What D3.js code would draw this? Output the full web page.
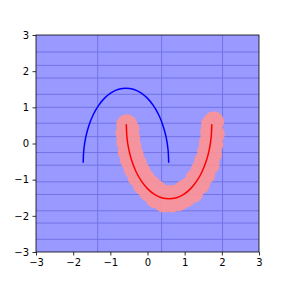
<!DOCTYPE html>
<html>
<head>
<meta charset="utf-8">
<script src="https://cdn.jsdelivr.net/npm/d3@7"></script>
<style>
  body { margin: 0; background: #fff; }
  svg { display: block; }
</style>
</head>
<body>
<svg width="288" height="288"></svg>
<script>
const svg = d3.select('svg');
const MARGIN = { TOP: 35, RIGHT: 29, BOTTOM: 36, LEFT: 36 };
const WIDTH = +svg.attr('width') - MARGIN.LEFT - MARGIN.RIGHT;
const HEIGHT = +svg.attr('height') - MARGIN.TOP - MARGIN.BOTTOM;

// tick values
const xTicks = [-3, -2, -1, 0, 1, 2, 3];
const yTicks = [-3, -2, -1, 0, 1, 2, 3];

// background grid lines
const gridX = [-1.34, 0.38, 2.02];
const gridY = [2.53, 2.16, 1.81, 1.36, 1.0, 0.56, 0.19, -0.25, -0.6, -1.06, -1.41, -1.86, -2.2, -2.65];

// blue arc
const blueX = [0.57, 0.553, 0.501, 0.416, 0.301, 0.159, -0.005, -0.187, -0.38, -0.58,
  -0.78, -0.973, -1.155, -1.319, -1.461, -1.576, -1.661, -1.713, -1.73];
const blueY = [-0.53, -0.172, 0.175, 0.5, 0.795, 1.048, 1.254, 1.406, 1.499, 1.53,
  1.499, 1.406, 1.254, 1.048, 0.795, 0.5, 0.175, -0.172, -0.53];

// red arc
const redX = [-0.57, -0.553, -0.501, -0.416, -0.301, -0.159, 0.005, 0.187, 0.38, 0.58,
  0.78, 0.973, 1.155, 1.319, 1.461, 1.576, 1.661, 1.713, 1.73];
const redY = [0.53, 0.172, -0.175, -0.5, -0.795, -1.048, -1.254, -1.406, -1.499, -1.53,
  -1.499, -1.406, -1.254, -1.048, -0.795, -0.5, -0.175, 0.172, 0.53];

// pink points around the red arc
const pinkX = [-0.56, -0.5, -0.58, -0.48, -0.56, -0.44, -0.52, -0.38, -0.46, -0.3,
  -0.36, -0.2, -0.26, -0.08, -0.12, 0.08, 0.04, 0.24,
  0.22, 0.4, 0.44, 0.6, 0.64, 0.8, 0.84, 0.98, 1.02, 1.14, 1.22,
  1.3, 1.4, 1.44, 1.54, 1.54, 1.66, 1.62, 1.72, 1.66, 1.76, 1.7, 1.8, 1.72, 1.78];
const pinkY = [0.52, 0.4, 0.28, 0.16, 0.04, -0.08, -0.22, -0.32, -0.46, -0.56,
  -0.7, -0.78, -0.92, -0.98, -1.14, -1.16, -1.32, -1.3,
  -1.5, -1.42, -1.62, -1.44, -1.62, -1.42, -1.58, -1.3, -1.48, -1.2, -1.36,
  -0.98, -1.12, -0.74, -0.86, -0.48, -0.58, -0.22, -0.3, 0.04, -0.02, 0.3, 0.26, 0.52, 0.6];

const g = svg.append('g')
  .attr('transform', `translate(${MARGIN.LEFT}, ${MARGIN.TOP})`);

const x = d3.scaleLinear().domain([-3, 3]).range([0, WIDTH]);
const y = d3.scaleLinear().domain([-3, 3]).range([HEIGHT, 0]);

// background
g.append('rect')
  .attr('width', WIDTH)
  .attr('height', HEIGHT)
  .attr('fill', '#9999ff');

g.selectAll('.gx').data(gridX).enter().append('line')
  .attr('x1', d => x(d)).attr('x2', d => x(d))
  .attr('y1', 0).attr('y2', HEIGHT)
  .attr('stroke', '#7373e6').attr('stroke-width', 1);

g.selectAll('.gy').data(gridY).enter().append('line')
  .attr('y1', d => y(d)).attr('y2', d => y(d))
  .attr('x1', 0).attr('x2', WIDTH)
  .attr('stroke', '#7373e6').attr('stroke-width', 1);

// pink blobs, grouped so overlaps stay uniform
g.append('g')
  .attr('opacity', 0.9)
  .selectAll('circle').data(pinkX).enter().append('circle')
  .attr('cx', d => x(d))
  .attr('cy', (d, i) => y(pinkY[i]))
  .attr('r', 10.5)
  .attr('fill', '#ff9494');

const line = d3.line().curve(d3.curveCatmullRom);

g.append('path')
  .attr('d', line(blueX.map((d, i) => [x(d), y(blueY[i])])))
  .attr('fill', 'none').attr('stroke', '#0000ff').attr('stroke-width', 1.5);

g.append('path')
  .attr('d', line(redX.map((d, i) => [x(d), y(redY[i])])))
  .attr('fill', 'none').attr('stroke', '#ff0000').attr('stroke-width', 1.5);

const fmt = d => (d < 0 ? '\u2212' + Math.abs(d) : '' + d);

const xAxis = g.append('g')
  .attr('transform', `translate(0, ${HEIGHT})`)
  .call(d3.axisBottom(x).tickValues(xTicks).tickFormat(fmt).tickSizeOuter(0).tickSize(3.5).tickPadding(3.5));

const yAxis = g.append('g')
  .call(d3.axisLeft(y).tickValues(yTicks).tickFormat(fmt).tickSizeOuter(0).tickSize(3.5).tickPadding(3.5));

[xAxis, yAxis].forEach(a => {
  a.select('.domain').remove();
  a.selectAll('text').attr('font-family', 'DejaVu Sans').attr('font-size', 10).attr('fill', '#000');
  a.selectAll('line').attr('stroke', '#000').attr('stroke-width', 0.8);
});

// spines
g.append('rect')
  .attr('width', WIDTH)
  .attr('height', HEIGHT)
  .attr('fill', 'none')
  .attr('stroke', '#000')
  .attr('stroke-width', 0.8);
</script>
</body>
</html>
